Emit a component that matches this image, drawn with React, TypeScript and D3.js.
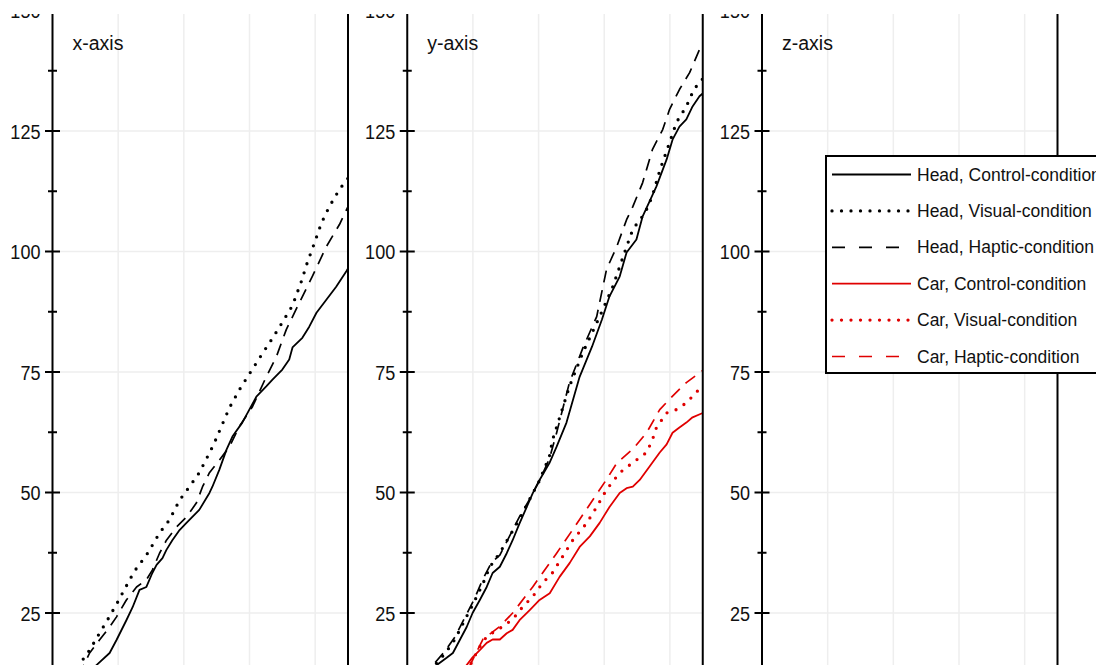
import React, { useEffect, useRef } from 'react'
import * as d3 from 'd3'

const panelTitles = ['x-axis', 'y-axis', 'z-axis']
const legendLabels = [
  'Head, Control-condition',
  'Head, Visual-condition',
  'Head, Haptic-condition',
  'Car, Control-condition',
  'Car, Visual-condition',
  'Car, Haptic-condition',
]
const majorTicks = [25, 50, 75, 100, 125, 150]
const minorTicks = [12.5, 37.5, 62.5, 87.5, 112.5, 137.5]
const timeGrid = [20, 40, 60, 80]

// x-axis panel, [time, value]
const xHeadControl = [[9.5,10],[13.4,14.2],[17.4,16.7],[19.5,19.4],[22.5,23.5],[24.4,26.2],[26.5,29.8],[28.6,30.4],[30.4,33.3],[31.7,35.0],[33.5,36.4],[34.7,38.1],[36.5,40.1],[38.7,42.2],[40.8,43.7],[44.7,46.4],[47.8,49.9],[48.7,51.2],[50.8,54.7],[53.0,58.9],[54.8,61.6],[57.8,64.5],[62.1,69.9],[65.1,72.0],[67.0,73.4],[70.0,75.5],[72.1,77.6],[73.1,80.1],[76.1,82.1],[78.2,84.4],[80.4,87.3],[83.4,90.0],[86.4,92.7],[89.5,95.9],[90,96.5]]
const xHeadVisual = [[6,10],[8.8,14.9],[11.3,17.3],[14.3,20.8],[16.7,23.5],[19.8,27.2],[21.3,29.1],[24.0,32.5],[25.6,34.3],[28.6,37.0],[30.1,38.7],[32.6,41.6],[35.6,44.3],[38.7,48.4],[41.7,51.2],[44.7,54.1],[47.8,58.2],[49.3,60.3],[53.9,67.6],[56.9,71.3],[59.4,74.0],[63.9,78.8],[67.0,82.0],[70.0,85.3],[73.1,88.8],[75.8,93.8],[77.6,97.7],[79.8,101.8],[81.9,105.9],[84.3,109.3],[87.4,112.9],[90,115.2]]
const xHeadHaptic = [[8,12],[11.3,16.7],[14.3,19.4],[17.4,22.1],[19.5,24.2],[22.5,27.7],[25.6,30.4],[28.6,31.9],[30.4,33.9],[32.6,37.4],[34.7,40.1],[37.7,42.8],[40.8,44.9],[43.8,47.8],[45.7,51.2],[47.8,54.1],[50.8,56.7],[53.9,59.5],[56.9,63.7],[60.9,67.8],[65.1,74.0],[68.2,78.2],[71.2,83.8],[75.2,89.4],[79.1,94.8],[83.4,101.0],[87.4,105.6],[90,109.3]]

// y-axis panel
const yHeadControl = [[7,11],[9.0,14.2],[12.0,15.7],[13.9,16.7],[16.0,19.4],[18.1,22.1],[19.9,25.0],[22.1,27.7],[24.2,30.4],[26.0,33.3],[28.2,34.6],[30.3,37.4],[32.1,40.1],[34.2,43.6],[36.4,47.0],[38.2,49.8],[40.3,52.6],[43.3,56.1],[45.5,59.5],[48.5,64.5],[52.5,74.0],[56.3,80.3],[59.3,85.9],[61.6,90.7],[64.7,94.8],[66.8,99.8],[69.8,102.5],[71.7,107.3],[75.9,113.5],[79.0,119.1],[80.8,123.2],[82.9,125.9],[85.0,127.4],[86.9,130.1],[89.0,132.2],[90,132.8]]
const yHeadVisual = [[6.5,11],[8.4,14.2],[11.4,16.5],[14.5,19.5],[17.5,23.5],[20.5,27.5],[23.0,31.0],[25.1,34.5],[28.2,37.5],[31.2,41.0],[34.2,44.5],[37.2,48.5],[40.3,52.5],[43.3,57.5],[44.3,61.0],[49.4,72.0],[53.4,78.9],[58.6,86.5],[62.6,92.7],[66.8,101.0],[68.7,104.6],[72.5,108.1],[74.6,111.4],[77.0,117.0],[79.9,122.6],[82.0,126.8],[85.0,130.1],[86.9,133.0],[89.0,135.3],[90,135.8]]
const yHeadHaptic = [[6,11],[7.8,14.2],[11.4,17.0],[14.5,20.0],[17.5,24.0],[20.5,28.0],[23.0,32.0],[25.7,35.5],[28.2,37.0],[31.2,41.0],[34.2,45.0],[37.2,48.5],[40.3,52.5],[43.3,57.0],[45.5,62.4],[49.4,72.8],[53.5,80.0],[57.7,86.5],[60.7,96.3],[63.8,101.0],[66.8,106.6],[68.7,109.3],[71.7,114.3],[74.7,121.2],[77.8,125.3],[79.9,129.5],[82.9,133.6],[86.0,137.1],[89.0,141.9],[90,143]]
const yCarControl = [[15,11],[18.1,14.2],[19.9,15.8],[22.1,17.3],[24.2,18.8],[26.0,19.5],[28.2,19.5],[30.3,20.8],[32.1,21.5],[34.2,23.5],[37.3,25.6],[40.3,27.7],[43.4,29.1],[46.4,32.5],[49.5,35.4],[52.5,38.7],[55.6,40.9],[58.6,43.7],[61.6,47.0],[64.7,49.9],[66.8,50.9],[68.7,51.2],[70.8,52.6],[73.8,55.4],[76.9,58.3],[79.0,60.0],[80.8,62.4],[82.9,63.5],[85.0,64.5],[86.9,65.6],[90,66.5]]
const yCarVisual = [[17,11],[19.9,15.2],[22.1,18.0],[24.2,20.1],[26.0,20.9],[29.1,22.2],[32.1,23.7],[35.2,26.3],[38.2,28.4],[41.2,31.2],[44.3,33.4],[47.3,36.7],[50.4,40.1],[54.6,43.6],[57.7,47.0],[60.7,50.6],[64.7,54.1],[68.7,56.2],[72.9,58.3],[74.7,61.0],[75.9,63.5],[79.0,66.5],[82.0,67.2],[85.0,68.6],[90,72.2]]
const yCarHaptic = [[16,10],[19.0,14.0],[23.0,19.5],[28.2,22.2],[32.1,25.0],[38.2,30.4],[45.5,37.4],[52.5,44.4],[60.7,52.7],[63.8,56.1],[68.7,59.0],[72.9,62.4],[76.9,67.2],[80.8,70.0],[85.0,72.8],[90,75.3]]

// z-axis panel has no visible lines
const panelSeries = [
  [xHeadControl, xHeadVisual, xHeadHaptic, null, null, null],
  [yHeadControl, yHeadVisual, yHeadHaptic, yCarControl, yCarVisual, yCarHaptic],
  [null, null, null, null, null, null],
]

const RED = '#e00000'
const lineStyles = [
  { color: '#000', dash: null, width: 1.8 },
  { color: '#000', dash: '0 9.5', width: 3.3 },
  { color: '#000', dash: '12 8', width: 1.7 },
  { color: RED, dash: null, width: 1.8 },
  { color: RED, dash: '0 9.5', width: 3.3 },
  { color: RED, dash: '12 8', width: 1.7 },
]

const FONT = '"Liberation Sans", Arial, sans-serif'

export default function App() {
  const svgRef = useRef<SVGSVGElement>(null)

  useEffect(() => {
    const svg = d3.select(svgRef.current)
    svg.selectAll('*').remove()

    const y = d3.scaleLinear().domain([0, 150]).range([733.5, 10.5])

    panelTitles.forEach((title, i) => {
      const left = 52.5 + i * 354.75
      const x = d3.scaleLinear().domain([0, 90]).range([left, left + 295.5])
      const g = svg.append('g')

      // grid
      g.selectAll('.hgrid').data(majorTicks).enter().append('line')
        .attr('x1', x(0)).attr('x2', x(90))
        .attr('y1', d => y(d)).attr('y2', d => y(d))
        .attr('stroke', '#eeeeee').attr('stroke-width', 1.5)
      g.selectAll('.vgrid').data(timeGrid).enter().append('line')
        .attr('x1', d => x(d)).attr('x2', d => x(d))
        .attr('y1', y(150)).attr('y2', y(0))
        .attr('stroke', '#eeeeee').attr('stroke-width', 1.5)

      const clipId = 'panel-clip-' + i
      svg.append('clipPath').attr('id', clipId).append('rect')
        .attr('x', x(0)).attr('y', 0)
        .attr('width', x(90) - x(0)).attr('height', 665)

      const line = d3.line<number[]>().x(d => x(d[0])).y(d => y(d[1]))
      panelSeries[i].forEach((data, k) => {
        if (!data) return
        const s = lineStyles[k]
        g.append('path')
          .attr('d', line(data))
          .attr('clip-path', `url(#${clipId})`)
          .attr('fill', 'none')
          .attr('stroke', s.color)
          .attr('stroke-width', s.width)
          .attr('stroke-linejoin', 'round')
          .attr('stroke-linecap', s.dash && s.dash.startsWith('0') ? 'round' : 'butt')
          .attr('stroke-dasharray', s.dash)
      })

      // axis + right border
      g.append('line').attr('x1', x(0)).attr('x2', x(0)).attr('y1', y(150)).attr('y2', y(0))
        .attr('stroke', '#000').attr('stroke-width', 2)
      g.append('line').attr('x1', x(90)).attr('x2', x(90)).attr('y1', y(150)).attr('y2', y(0))
        .attr('stroke', '#000').attr('stroke-width', 2)

      g.selectAll('.major').data(majorTicks).enter().append('line')
        .attr('x1', x(0) - 7.5).attr('x2', x(0) + 7.5)
        .attr('y1', d => y(d)).attr('y2', d => y(d))
        .attr('stroke', '#000').attr('stroke-width', 2)
      g.selectAll('.minor').data(minorTicks).enter().append('line')
        .attr('x1', x(0) - 4.5).attr('x2', x(0) + 4.5)
        .attr('y1', d => y(d)).attr('y2', d => y(d))
        .attr('stroke', '#000').attr('stroke-width', 2)
      // tick labels are a little condensed in the original
      g.selectAll('.ticklabel').data(majorTicks).enter().append('text')
        .attr('transform', d => `translate(${x(0) - 12},${y(d)}) scale(0.86,1)`)
        .attr('text-anchor', 'end').attr('dominant-baseline', 'central')
        .attr('font-family', FONT).attr('font-size', 21).attr('fill', '#111')
        .text(d => d)

      g.append('text')
        .attr('x', x(0) + 20).attr('y', 50)
        .attr('font-family', FONT).attr('font-size', 19.5).attr('fill', '#111')
        .text(title)
    })

    // the picture is cut off at the top
    svg.append('rect').attr('x', 0).attr('y', 0).attr('width', 1096).attr('height', 14).attr('fill', '#fff')

    // legend
    const lg = svg.append('g')
    lg.append('rect').attr('x', 826).attr('y', 156).attr('width', 300).attr('height', 217)
      .attr('fill', '#fff').attr('stroke', '#000').attr('stroke-width', 2)
    const legendDash = ['', '0 9.5', '13 14', '', '0 9.5', '13 14']
    legendLabels.forEach((label, k) => {
      const ry = 174.5 + k * 36.4
      const s = lineStyles[k]
      lg.append('line').attr('x1', 832).attr('x2', 911).attr('y1', ry).attr('y2', ry)
        .attr('stroke', s.color).attr('stroke-width', s.width)
        .attr('stroke-linecap', legendDash[k].startsWith('0') ? 'round' : 'butt')
        .attr('stroke-dasharray', legendDash[k] || null)
      lg.append('text').attr('x', 917).attr('y', ry)
        .attr('dominant-baseline', 'central')
        .attr('font-family', FONT).attr('font-size', 17.5).attr('fill', '#111')
        .text(label)
    })
  }, [])

  return (
    <svg ref={svgRef} width={1096} height={665}
      style={{ position: 'absolute', left: 0, top: 0, background: '#fff' }} />
  )
}
